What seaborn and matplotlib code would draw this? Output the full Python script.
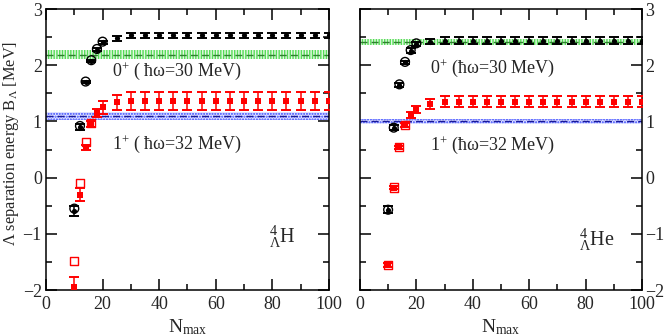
import numpy as np
import pandas as pd
import seaborn as sns
import matplotlib
matplotlib.use("Agg")
import matplotlib.pyplot as plt

# ---------------- data ----------------
nmax = [10, 12, 14, 16, 18, 20, 25, 30, 35, 40, 45, 50, 55, 60, 65, 70, 75, 80, 85, 90, 95, 100]

# 4_Lambda H
h_0p = [-0.60, 0.90, 1.70, 2.08, 2.28, 2.41, 2.48, 2.53, 2.53, 2.53, 2.53, 2.53, 2.53, 2.53, 2.53,
        2.53, 2.53, 2.53, 2.53, 2.53, 2.53, 2.53]
h_0p_err = [0.09, 0.05, 0.02, 0.02, 0.03, 0.03, 0.04, 0.04, 0.04, 0.04, 0.04, 0.04, 0.04, 0.04,
            0.04, 0.04, 0.04, 0.04, 0.04, 0.04, 0.04, 0.04]
h_1p = [-1.94, -0.30, 0.54, 0.95, 1.15, 1.25, 1.34, 1.37, 1.37, 1.37, 1.37, 1.37, 1.37, 1.37, 1.37,
        1.37, 1.37, 1.37, 1.37, 1.37, 1.37, 1.37]
h_1p_err = [0.17, 0.12, 0.05, 0.05, 0.07, 0.11, 0.13, 0.16, 0.16, 0.16, 0.16, 0.16, 0.16, 0.16,
            0.16, 0.16, 0.16, 0.16, 0.16, 0.16, 0.16, 0.16]
h_open_n_0p = [10, 12, 14, 16, 18, 20]
h_open_0p = [-0.55, 0.92, 1.71, 2.09, 2.29, 2.42]
h_open_n_1p = [10, 12, 14, 16]
h_open_1p = [-1.49, -0.09, 0.63, 0.97]
h_band_0p = (2.19, 0.08)
h_band_1p = (1.10, 0.075)

# 4_Lambda He
he_0p = [-0.57, 0.89, 1.65, 2.05, 2.26, 2.38, 2.42, 2.44, 2.44, 2.44, 2.44, 2.44, 2.44, 2.44, 2.44,
         2.44, 2.44, 2.44, 2.44, 2.44, 2.44, 2.44]
he_0p_err = [0.06, 0.05, 0.03, 0.03, 0.04, 0.04, 0.05, 0.07, 0.07, 0.07, 0.07, 0.07, 0.07, 0.07,
             0.07, 0.07, 0.07, 0.07, 0.07, 0.07, 0.07, 0.07]
he_1p = [-1.55, -0.175, 0.54, 0.94, 1.11, 1.21, 1.31, 1.35, 1.35, 1.35, 1.35, 1.35, 1.35, 1.35,
         1.35, 1.35, 1.35, 1.35, 1.35, 1.35, 1.35, 1.35]
he_1p_err = [0.03, 0.03, 0.03, 0.04, 0.05, 0.06, 0.09, 0.10, 0.10, 0.10, 0.10, 0.10, 0.10, 0.10,
             0.10, 0.10, 0.10, 0.10, 0.10, 0.10, 0.10, 0.10]
he_open_n_0p = [10, 12, 14, 16, 18, 20]
he_open_0p = [-0.57, 0.89, 1.66, 2.06, 2.27, 2.39]
he_open_n_1p = [10, 12, 14, 16]
he_open_1p = [-1.55, -0.175, 0.55, 0.94]
he_band_0p = (2.41, 0.05)
he_band_1p = (1.00, 0.05)

x_ticks = [0, 20, 40, 60, 80, 100]
y_ticks = [-2, -1, 0, 1, 2, 3]

# ---------------- style ----------------
sns.set_theme(style="ticks")
plt.rcParams["font.family"] = ["Liberation Serif", "DejaVu Serif"]
plt.rcParams["mathtext.fontset"] = "custom"
plt.rcParams["mathtext.rm"] = "Liberation Serif"
plt.rcParams["mathtext.it"] = "Liberation Serif:italic"
plt.rcParams["hatch.linewidth"] = 1.0

fig = plt.figure(figsize=(6.64, 3.35), dpi=100)
axL = fig.add_axes([0.0693, 0.134, 0.426, 0.839])
axR = fig.add_axes([0.542, 0.134, 0.425, 0.839])


def draw_panel(ax, d0, e0, d1, e1, on0, o0, on1, o1, b0, b1):
    # bands
    for (c, h), fc, bg, lc, hatch in [(b0, "#55dd55", "#e6f8e6", "#2f7f2f", "||||||"),
                                       (b1, "#3344ff", "#e4e6ff", "#1a1a99", "......")]:
        ax.fill_between([0, 100], c - h, c + h, facecolor=bg, edgecolor=fc,
                        hatch=hatch, linewidth=0, zorder=1)
        ax.axhline(c, color=lc, ls=(0, (5, 3)), lw=1.0, zorder=2)

    df0 = pd.DataFrame({"N": nmax, "B": d0, "err": e0})
    df1 = pd.DataFrame({"N": nmax, "B": d1, "err": e1})
    ax.errorbar(df1["N"], df1["B"], yerr=df1["err"], fmt="none", ecolor="red",
                elinewidth=1.1, capsize=3.8, capthick=1.4, zorder=3)
    ax.errorbar(df0["N"], df0["B"], yerr=df0["err"], fmt="none", ecolor="black",
                elinewidth=1.1, capsize=3.8, capthick=1.4, zorder=3)
    sns.scatterplot(data=df1, x="N", y="B", marker="s", s=13, color="red",
                    edgecolor="red", linewidth=0, ax=ax, zorder=4)
    sns.scatterplot(data=df0, x="N", y="B", marker="o", s=14, color="black",
                    edgecolor="black", linewidth=0, ax=ax, zorder=4)
    sns.scatterplot(x=on1, y=o1, marker="s", s=34, facecolor="none",
                    edgecolor="red", linewidth=1.0, ax=ax, zorder=5)
    sns.scatterplot(x=on0, y=o0, marker="o", s=40, facecolor="none",
                    edgecolor="black", linewidth=1.0, ax=ax, zorder=5)

    ax.set_xlim(0, 100)
    ax.set_ylim(-2, 3)
    ax.set_xticks(x_ticks)
    ax.set_yticks(y_ticks)
    ax.set_xticks(np.arange(10, 100, 20), minor=True)
    ax.set_yticks(np.arange(-1.5, 3, 1.0), minor=True)
    ax.tick_params(which="both", direction="in", top=True, right=True, width=1.1,
                   color="black", labelsize=13)
    ax.tick_params(which="major", length=8)
    ax.tick_params(which="minor", length=4.5)
    ax.tick_params(axis="x", pad=4)
    ax.tick_params(axis="y", pad=3)
    for sp in ax.spines.values():
        sp.set_visible(True)
        sp.set_linewidth(1.1)
        sp.set_color("black")
    ax.set_ylabel("")
    ax.set_xlabel(r"N$_{\rm max}$", fontsize=14, labelpad=3)


draw_panel(axL, h_0p, h_0p_err, h_1p, h_1p_err, h_open_n_0p, h_open_0p,
           h_open_n_1p, h_open_1p, h_band_0p, h_band_1p)
draw_panel(axR, he_0p, he_0p_err, he_1p, he_1p_err, he_open_n_0p, he_open_0p,
           he_open_n_1p, he_open_1p, he_band_0p, he_band_1p)

axR.yaxis.tick_right()
axR.tick_params(axis="y", which="both", left=True, right=True, labelleft=False,
                labelright=True, pad=2.5)

# texts
axL.text(23.3, 1.89, "0$^{+}$ ( ħω=30 MeV)", fontsize=13, va="center", ha="left")
axL.text(23.3, 0.60, "1$^{+}$ ( ħω=32 MeV)", fontsize=13, va="center", ha="left")
axR.text(24.8, 1.95, "0$^{+}$ (ħω=30 MeV)", fontsize=13, va="center", ha="left")
axR.text(24.8, 0.585, "1$^{+}$ (ħω=32 MeV)", fontsize=13, va="center", ha="left")
axL.text(79, -1.05, r"${}^{4}_{\Lambda}$H", fontsize=14.5, va="center", ha="left")
axR.text(77.5, -1.1, r"${}^{4}_{\Lambda}$He", fontsize=14.5, va="center", ha="left")

fig.text(0.017, 0.573, r"Λ separation energy B$_{\Lambda}$ [MeV]", rotation=90,
         fontsize=11.8, va="center", ha="center")

fig.savefig("out.png", dpi=100)
